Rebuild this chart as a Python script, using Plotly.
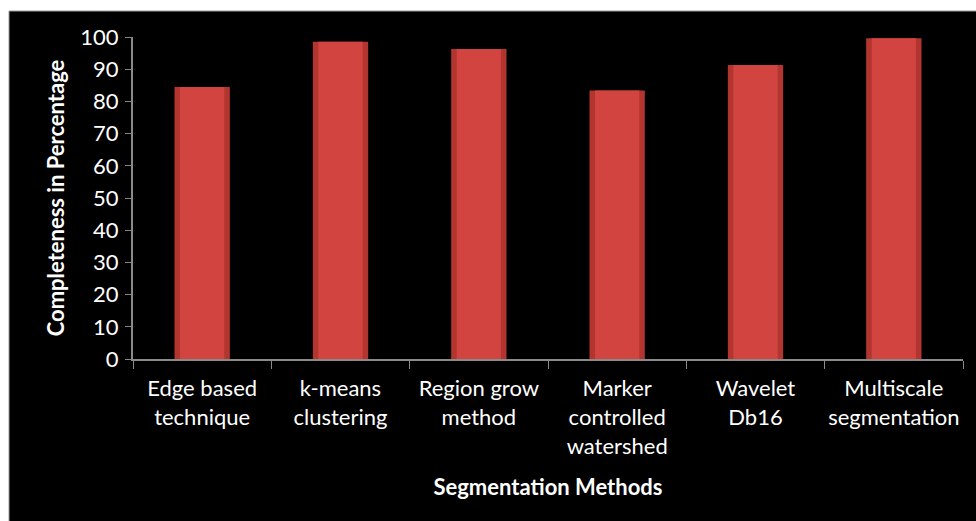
import plotly.graph_objects as go

categories = ["Edge based<br>technique", "k-means<br>clustering", "Region grow<br>method",
              "Marker<br>controlled<br>watershed", "Wavelet<br>Db16", "Multiscale<br>segmentation"]
completeness = [84.5, 98.5, 96.3, 83.4, 91.3, 99.6]
y_ticks = [0, 10, 20, 30, 40, 50, 60, 70, 80, 90, 100]

W, H = 976, 521
L, R, T, B = 133, 13, 37, 162
pw, ph = W - L - R, H - T - B

def px_to_paper_x(x):
    return (x - L) / pw

def px_to_paper_y(y):
    return (H - B - y) / ph

FONT = "Lato"

fig = go.Figure()
fig.add_trace(go.Bar(x=categories, y=completeness, width=0.40,
                     marker=dict(color="#B3352F", line=dict(width=0)),
                     hoverinfo="skip", showlegend=False))
fig.add_trace(go.Bar(x=categories, y=completeness, width=0.32,
                     marker=dict(color="#D2443F", line=dict(width=0)),
                     showlegend=False))

fig.update_layout(
    width=W, height=H,
    margin=dict(l=L, r=R, t=T, b=B, pad=0, autoexpand=False),
    barmode="overlay",
    paper_bgcolor="white",
    plot_bgcolor="#404040",
    font=dict(family=FONT, color="white", size=17),
    shapes=[dict(type="rect", xref="paper", yref="paper", layer="below",
                 x0=px_to_paper_x(9), x1=px_to_paper_x(W + 5),
                 y0=px_to_paper_y(H + 5), y1=px_to_paper_y(11),
                 fillcolor="black", line=dict(color="#9a9a9a", width=1))],
    xaxis=dict(showline=True, linecolor="#8a8a8a", linewidth=2,
               ticks="outside", ticklen=8, tickcolor="#8a8a8a", tickwidth=1,
               tickson="boundaries", showgrid=False, tickangle=0,
               automargin=False,
               ticklabelstandoff=9,
               tickfont=dict(family=FONT, size=22, color="white"),
               title=dict(text="<b>Segmentation Methods</b>",
                          font=dict(family=FONT, size=22, color="white"),
                          standoff=22)),
    yaxis=dict(range=[0, 100], tickvals=y_ticks, showline=True,
               linecolor="#8a8a8a", linewidth=2, automargin=False,
               ticks="outside", ticklen=6, tickcolor="#8a8a8a", tickwidth=1,
               showgrid=False, zeroline=False,
               ticklabelstandoff=2,
               tickfont=dict(family=FONT, size=22, color="white"),
               title=dict(text="<b>Completeness in Percentage</b>",
                          font=dict(family=FONT, size=22, color="white"),
                          standoff=10)),
)

fig.write_html("out.html")
